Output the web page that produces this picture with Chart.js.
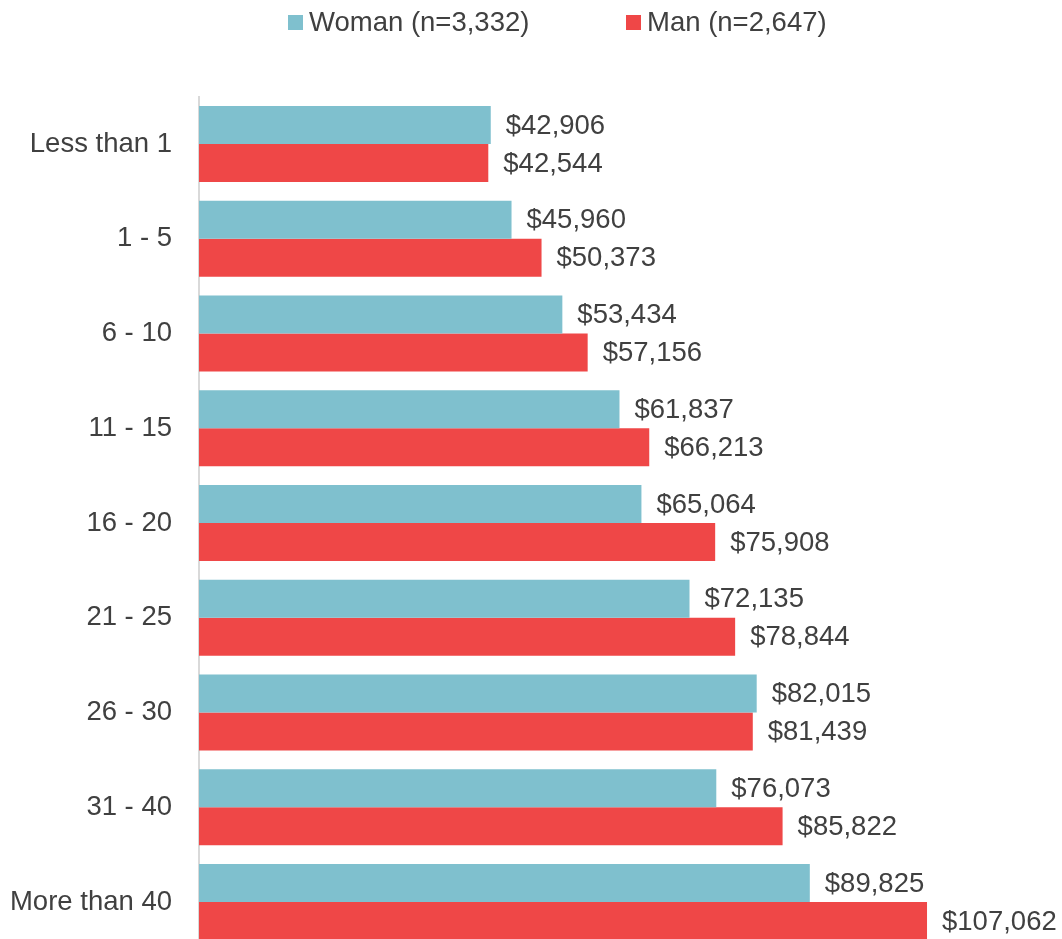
<!DOCTYPE html>
<html>
<head>
<meta charset="utf-8">
<script src="https://cdn.jsdelivr.net/npm/chart.js@4/dist/chart.umd.min.js"></script>
<style>
  html, body { margin: 0; padding: 0; background: #fff; overflow: hidden; }
  #wrap { position: relative; width: 1062px; height: 950px; }
  #legend { position: absolute; top: 0; left: 0; width: 1062px; height: 44px;
            font-family: "Liberation Sans", Arial, sans-serif; font-size: 27.5px; color: #404040; }
  .item { position: absolute; top: 6px; line-height: 32px; white-space: nowrap; }
  .box { display: inline-block; width: 15px; height: 15px; margin-right: 6px; vertical-align: 1px; }
</style>
</head>
<body>
<div id="wrap">
  <canvas id="chart" width="1062" height="950"></canvas>
  <div id="legend"></div>
</div>
<script>
// Years of experience groups
const categories = ['Less than 1', '1 - 5', '6 - 10', '11 - 15', '16 - 20', '21 - 25', '26 - 30', '31 - 40', 'More than 40'];
// Average salary by group
const womanValues = [42906, 45960, 53434, 61837, 65064, 72135, 82015, 76073, 89825];
const manValues   = [42544, 50373, 57156, 66213, 75908, 78844, 81439, 85822, 107062];
const seriesNames = ['Woman (n=3,332)', 'Man (n=2,647)'];
const seriesColors = ['#7FC0CE', '#EF4747'];

const FONT = '"Liberation Sans", Arial, sans-serif';
const TEXT = '#404040';

// legend row
const legendPos = [288, 626];
const legend = document.getElementById('legend');
seriesNames.forEach((name, i) => {
  const el = document.createElement('span');
  el.className = 'item';
  el.style.left = legendPos[i] + 'px';
  const box = document.createElement('span');
  box.className = 'box';
  box.style.background = seriesColors[i];
  el.appendChild(box);
  el.appendChild(document.createTextNode(name));
  legend.appendChild(el);
});

// dollar labels at the end of each bar
const valueLabels = {
  id: 'valueLabels',
  afterDatasetsDraw(chart) {
    const ctx = chart.ctx;
    ctx.save();
    ctx.font = '27.5px ' + FONT;
    ctx.fillStyle = TEXT;
    ctx.textAlign = 'left';
    ctx.textBaseline = 'middle';
    chart.data.datasets.forEach((ds, di) => {
      const meta = chart.getDatasetMeta(di);
      meta.data.forEach((bar, i) => {
        const v = ds.data[i];
        ctx.fillText('$' + v.toLocaleString('en-US'), bar.x + 15, bar.y + 1);
      });
    });
    ctx.restore();
  }
};

new Chart(document.getElementById('chart'), {
  type: 'bar',
  data: {
    labels: categories,
    datasets: [
      { label: seriesNames[0], data: womanValues, backgroundColor: seriesColors[0] },
      { label: seriesNames[1], data: manValues, backgroundColor: seriesColors[1] }
    ]
  },
  options: {
    indexAxis: 'y',
    responsive: false,
    animation: false,
    events: [],
    categoryPercentage: 0.8,
    barPercentage: 1.0,
    layout: { padding: { top: 96.6, bottom: 0.6, left: 0, right: 47 } },
    plugins: { legend: { display: false }, tooltip: { enabled: false } },
    scales: {
      x: { display: false, min: 0, max: 120000 },
      y: {
        grid: { display: false, drawTicks: false },
        border: { display: true, color: '#D9D9D9', width: 2 },
        ticks: { color: TEXT, font: { family: FONT, size: 27.5 }, padding: 27 },
        afterFit(scale) {
          scale.width = 199;
          // categories are centred in their bands, so no overflow room is needed
          scale.paddingTop = 0;
          scale.paddingBottom = 0;
        }
      }
    }
  },
  plugins: [valueLabels]
});
</script>
</body>
</html>
